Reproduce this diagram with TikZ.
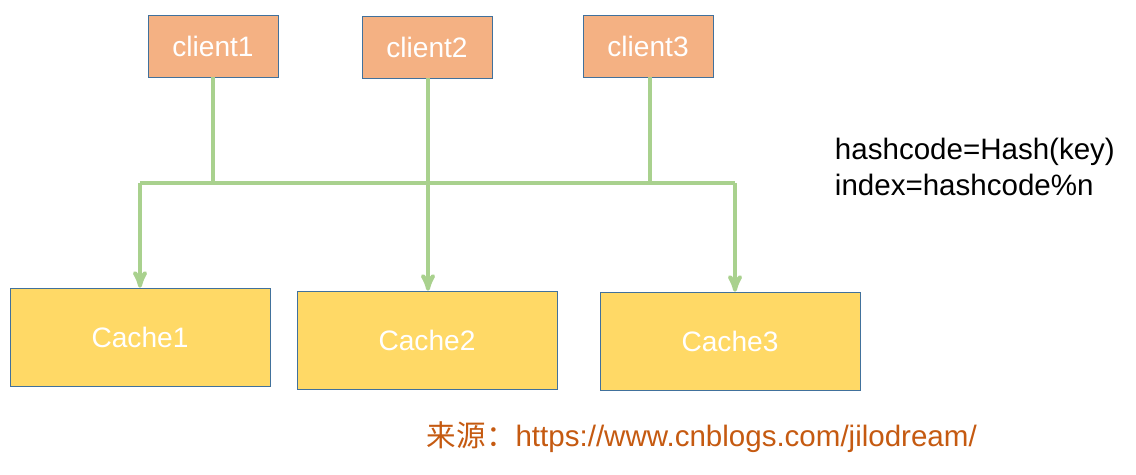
\documentclass[tikz,border=0pt]{standalone}
\usepackage{fontspec}
\setmainfont{Liberation Sans}
\newfontfamily\cjk{Noto Sans CJK SC}
\usetikzlibrary{arrows}
\definecolor{clientfill}{HTML}{F4B183}
\definecolor{cachefill}{HTML}{FFD966}
\definecolor{boxline}{HTML}{41719C}
\definecolor{wire}{HTML}{A9D18E}
\definecolor{srccolor}{HTML}{C55A11}
\begin{document}
\begin{tikzpicture}[x=0.025cm,y=-0.025cm,
  client/.style={draw=boxline, fill=clientfill, minimum width=3.25cm, minimum height=1.55cm, text=white, font=\fontsize{20}{22}\selectfont},
  cache/.style={draw=boxline, fill=cachefill, minimum width=6.5cm, minimum height=2.45cm, text=white, font=\fontsize{20}{22}\selectfont},
  wire/.style={draw=wire, line width=2.8pt},
  arr/.style={wire, -stealth'}]
\useasboundingbox (0,0) rectangle (1136,474);
\node[client] (c1) at (213,46) {client1};
\node[client] (c2) at (427,47) {client2};
\node[client] (c3) at (648,46) {client3};
\node[cache] (k1) at (140,337) {Cache1};
\node[cache] (k2) at (427,340) {Cache2};
\node[cache] (k3) at (730,341) {Cache3};
\coordinate (b1) at (213,183);
\coordinate (b2) at (428,183);
\coordinate (b3) at (650,183);
\coordinate (l) at (140,183);
\coordinate (r) at (735,183);
\draw[wire] (c1.south -| b1) -- (b1);
\draw[wire] (c2.south -| b2) -- (b2);
\draw[wire] (c3.south -| b3) -- (b3);
\draw[wire] (l) -- (r);
\draw[arr] (l) -- (k1.north -| l);
\draw[arr] (b2) -- (k2.north -| b2);
\draw[arr] (r) -- (k3.north -| r);
\node[anchor=west, align=left, font=\fontsize{21}{25}\selectfont] (formula) at (830,167) {hashcode=Hash(key)\\index=hashcode\%n};
\node[anchor=west, text=srccolor, font=\fontsize{21}{24}\selectfont] (src) at (422,437) {{\cjk 来源：}https://www.cnblogs.com/jilodream/};
\end{tikzpicture}
\end{document}
